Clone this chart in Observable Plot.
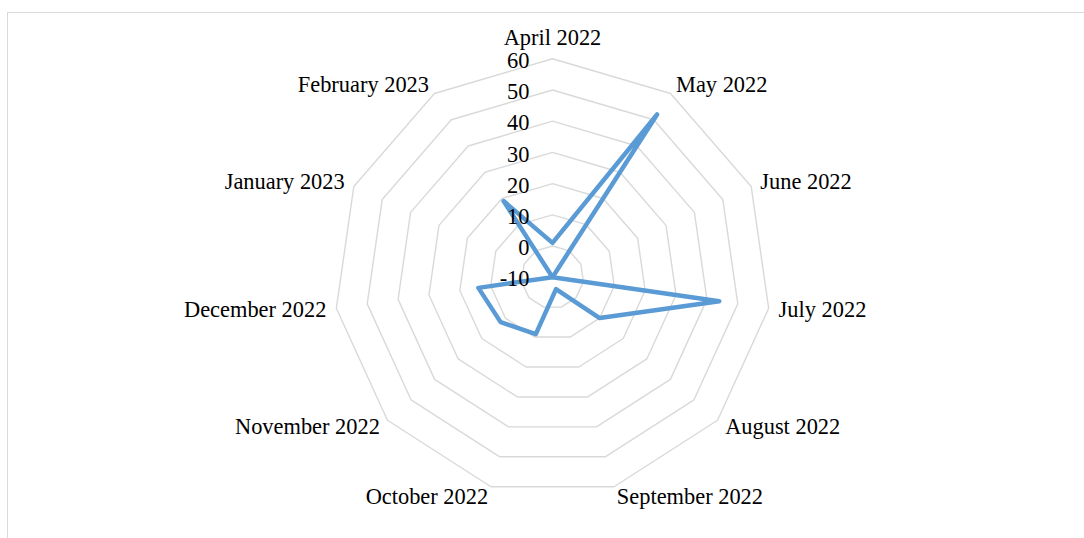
<!DOCTYPE html>
<html>
<head>
<meta charset="utf-8">
<script src="https://cdn.jsdelivr.net/npm/d3@7"></script>
<script src="https://cdn.jsdelivr.net/npm/@observablehq/plot@0.6"></script>
<style>
  html, body { margin: 0; padding: 0; background: #fff; overflow: hidden; width: 1084px; height: 538px; }
  #frame { position: absolute; left: 7px; top: 12px; width: 1200px; height: 700px; border: 1px solid #D9D9D9; box-sizing: border-box; }
  #chart { position: absolute; left: 0; top: 0; }
</style>
</head>
<body>
<div id="frame"></div>
<div id="chart"></div>
<script>
const categories = ["April 2022", "May 2022", "June 2022", "July 2022", "August 2022", "September 2022",
  "October 2022", "November 2022", "December 2022", "January 2023", "February 2023"];
const values = [1, 52, -10, 44, 10, -6, 9, 12, 14, -10, 19];
const tickValues = [-10, 0, 10, 20, 30, 40, 50, 60];

const rMin = -10, rMax = 60;
const n = categories.length;
const norm = v => (v - rMin) / (rMax - rMin);
const ang = i => 2 * Math.PI * i / n;
const px = (r, i) => r * Math.sin(ang(i));
const py = (r, i) => r * Math.cos(ang(i));

const series = values.map((v, i) => ({cat: categories[i], i, v, x: px(norm(v), i), y: py(norm(v), i)}));
const rings = [];
for (const t of tickValues.filter(t => t > rMin)) {
  for (let i = 0; i < n; i++) rings.push({ring: t, i, x: px(norm(t), i), y: py(norm(t), i)});
}
const labelR = 1.046;
const labels = categories.map((c, i) => ({cat: c, i, x: px(labelR, i), y: py(labelR, i)}));

const font = {fontFamily: "Liberation Serif, Times New Roman, serif", fontSize: 22.4, fill: "#000"};

const chart = Plot.plot({
  width: 1084,
  height: 538,
  margin: 0,
  x: {domain: [-2.5275, 2.4359], axis: null},
  y: {domain: [-1.1964, 1.2669], axis: null},
  marks: [
    Plot.line(rings, {x: "x", y: "y", z: "ring", curve: "linear-closed", stroke: "#D9D9D9", strokeWidth: 1.4}),
    Plot.line(series, {x: "x", y: "y", curve: "linear-closed", stroke: "#5B9BD5", strokeWidth: 4.5, strokeLinejoin: "round", strokeLinecap: "round"}),
    Plot.text(tickValues, {x: () => 0, y: d => norm(d), text: d => String(d), textAnchor: "end", dx: -23, dy: 2, ...font}),
    Plot.text(labels.filter(d => d.i === 0), {x: "x", y: "y", text: "cat", textAnchor: "middle", dy: -11, ...font}),
    Plot.text(labels.filter(d => d.i >= 1 && d.i <= 5), {x: "x", y: "y", text: "cat", textAnchor: "start", ...font}),
    Plot.text(labels.filter(d => d.i >= 6), {x: "x", y: "y", text: "cat", textAnchor: "end", ...font})
  ]
});
document.getElementById("chart").appendChild(chart);
</script>
</body>
</html>
